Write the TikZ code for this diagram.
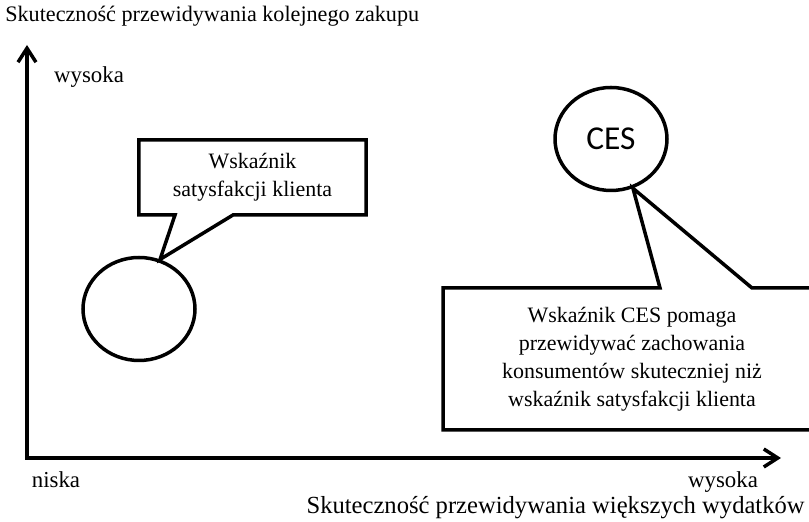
\documentclass[tikz,border=0pt]{standalone}
\usepackage{fontspec}
\setmainfont{Liberation Serif}
\newfontfamily\cesfont{Carlito}
\usetikzlibrary{arrows.meta}
\usetikzlibrary{calc}
\usetikzlibrary{shapes.geometric}

\tikzset{
  axisline/.style={line width=0.7mm, {Straight Barb[length=2.8mm,width=3.6mm]}-{Straight Barb[length=2.8mm,width=3.6mm]}},
  outline/.style={line width=0.7mm},
  ring/.style={ellipse, draw, line width=0.7mm, minimum width=22.4mm, minimum height=20.6mm, inner sep=0pt},
  boxtext/.style={align=center, outer sep=0pt, inner sep=0pt, font=\fontsize{12.5}{16}\selectfont},
  axislabel/.style={inner sep=0pt, font=\fontsize{12.6}{15}\selectfont},
}

\begin{document}
\begin{tikzpicture}[x=0.2mm, y=0.2mm]
\useasboundingbox (0,0) rectangle (809,522);
\clip (0,0) rectangle (809,522);

% axes
\coordinate (origin) at (27,64);
\coordinate (ytip) at (27,477);
\coordinate (xtip) at (781,64);
\draw[axisline] (ytip) -- (origin) -- (xtip);

% axis labels
\node[axislabel, anchor=west] (ytitle) at (5,506) {Skuteczność przewidywania kolejnego zakupu};
\node[axislabel, font=\fontsize{13}{15}\selectfont] (yhigh) at (89,445) {wysoka};
\node[axislabel, font=\fontsize{13}{15}\selectfont] (xlow) at (56,42) {niska};
\node[axislabel, font=\fontsize{13}{15}\selectfont] (xhigh) at (723,40) {wysoka};
\node[axislabel, anchor=east, font=\fontsize{14}{16}\selectfont] (xtitle) at (805,14) {Skuteczność przewidywania większych wydatków};

% the two circles
\node[ring] (sat) at (139,213) {};
\node[ring, font=\cesfont\fontsize{19}{22}\selectfont] (ces) at (611,383) {CES};

% left callout
\node[boxtext, minimum width=45.4mm, minimum height=15mm] (satbox) at (252.5,344.5) {Wskaźnik\\satysfakcji klienta};
\draw[outline] (satbox.north west) -- (satbox.north east) -- (satbox.south east)
  -- ($(satbox.south west)+(94,0)$) -- (sat.67) -- ($(satbox.south west)+(36,0)$)
  -- (satbox.south west) -- cycle;

% right callout (runs past the right border)
\node[boxtext, minimum width=75.6mm, minimum height=28.4mm] (cesbox) at (632,163)
  {Wskaźnik CES pomaga\\przewidywać zachowania\\konsumentów skuteczniej niż\\wskaźnik satysfakcji klienta};
\draw[outline] (cesbox.north west) -- ($(cesbox.north west)+(217,0)$) -- (ces.-66)
  -- ($(cesbox.north west)+(309,0)$) -- (cesbox.north east) -- (cesbox.south east)
  -- (cesbox.south west) -- cycle;

\end{tikzpicture}
\end{document}
